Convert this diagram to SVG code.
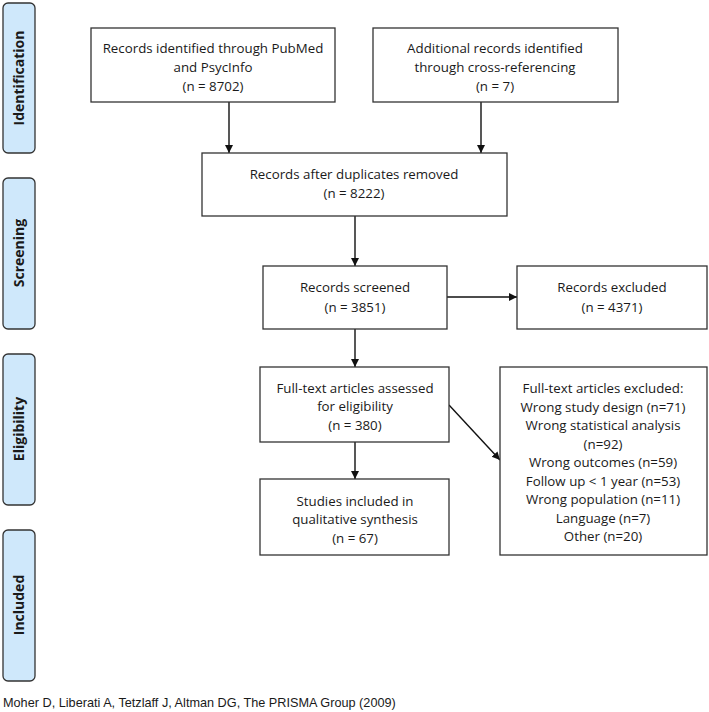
<svg xmlns="http://www.w3.org/2000/svg" width="709" height="712" viewBox="0 0 709 712">
<style>
.bar{fill:#cfe8fb;stroke:#333;stroke-width:1.3}
.box{fill:#fff;stroke:#333;stroke-width:1.3}
.t{font-family:"Open Sans","Noto Sans",sans-serif;font-size:13.3px;fill:#1a1a1a;text-anchor:middle}
.lab{font-family:"Open Sans","Noto Sans",sans-serif;font-size:14px;font-weight:bold;fill:#1a1a1a;text-anchor:middle}
.cite{font-family:"Liberation Sans",Arial,sans-serif;font-size:12.7px;fill:#1a1a1a}
.c{stroke:#111;stroke-width:1.4;fill:none;marker-end:url(#ah)}
</style>
<defs>
<marker id="ah" markerWidth="10" markerHeight="10" refX="8" refY="4" orient="auto" markerUnits="userSpaceOnUse">
<path d="M0,0 L8,4 L0,8 Z" fill="#111"/>
</marker>
</defs>
<rect width="709" height="712" fill="#fff"/>
<g id="phase-identification"><rect class="bar" x="3" y="3" width="32" height="150" rx="5"/><text class="lab" transform="translate(24,78) rotate(-90)">Identification</text></g>
<g id="phase-screening"><rect class="bar" x="3" y="178" width="32" height="151" rx="5"/><text class="lab" transform="translate(24,253) rotate(-90)">Screening</text></g>
<g id="phase-eligibility"><rect class="bar" x="3" y="354" width="32" height="151" rx="5"/><text class="lab" transform="translate(24,429) rotate(-90)">Eligibility</text></g>
<g id="phase-included"><rect class="bar" x="3" y="530" width="32" height="151" rx="5"/><text class="lab" transform="translate(24,605) rotate(-90)">Included</text></g>

<g id="connectors">
<line class="c" x1="229" y1="102" x2="229" y2="153"/>
<line class="c" x1="481" y1="102" x2="481" y2="153"/>
<line class="c" x1="355" y1="216" x2="355" y2="266"/>
<line class="c" x1="447" y1="297" x2="517" y2="297"/>
<line class="c" x1="355" y1="329" x2="355" y2="367"/>
<line class="c" x1="355" y1="442" x2="355" y2="479"/>
<line class="c" x1="449" y1="405" x2="500" y2="460"/>
</g>

<g id="n1"><rect class="box" x="91" y="28" width="244" height="74"/>
<text class="t" x="213" y="53">Records identified through PubMed</text>
<text class="t" x="213" y="72">and PsycInfo</text>
<text class="t" x="213" y="91">(n = 8702)</text></g>
<g id="n2"><rect class="box" x="373" y="28" width="245" height="74"/>
<text class="t" x="495" y="53">Additional records identified</text>
<text class="t" x="495" y="72">through cross-referencing</text>
<text class="t" x="495" y="91">(n = 7)</text></g>
<g id="n3"><rect class="box" x="202" y="153" width="305" height="63"/>
<text class="t" x="354" y="179">Records after duplicates removed</text>
<text class="t" x="354" y="198">(n = 8222)</text></g>
<g id="n4"><rect class="box" x="263" y="266" width="184" height="63"/>
<text class="t" x="355" y="292">Records screened</text>
<text class="t" x="355" y="312">(n = 3851)</text></g>
<g id="n5"><rect class="box" x="517" y="266" width="190" height="63"/>
<text class="t" x="612" y="292">Records excluded</text>
<text class="t" x="612" y="312">(n = 4371)</text></g>
<g id="n6"><rect class="box" x="260" y="367" width="189" height="75"/>
<text class="t" x="355" y="393">Full-text articles assessed</text>
<text class="t" x="355" y="411">for eligibility</text>
<text class="t" x="355" y="430">(n = 380)</text></g>
<g id="n7"><rect class="box" x="260" y="479" width="189" height="76"/>
<text class="t" x="355" y="506">Studies included in</text>
<text class="t" x="355" y="524">qualitative synthesis</text>
<text class="t" x="355" y="543">(n = 67)</text></g>
<g id="n8"><rect class="box" x="500" y="367" width="207" height="188"/>
<text class="t" x="603" y="393">Full-text articles excluded:</text>
<text class="t" x="603" y="412">Wrong study design (n=71)</text>
<text class="t" x="603" y="430">Wrong statistical analysis</text>
<text class="t" x="603" y="449">(n=92)</text>
<text class="t" x="603" y="467">Wrong outcomes (n=59)</text>
<text class="t" x="603" y="486">Follow up &lt; 1 year (n=53)</text>
<text class="t" x="603" y="504">Wrong population (n=11)</text>
<text class="t" x="603" y="523">Language (n=7)</text>
<text class="t" x="603" y="541">Other (n=20)</text></g>

<text class="cite" x="3" y="707">Moher D, Liberati A, Tetzlaff J, Altman DG, The PRISMA Group (2009)</text>
</svg>
